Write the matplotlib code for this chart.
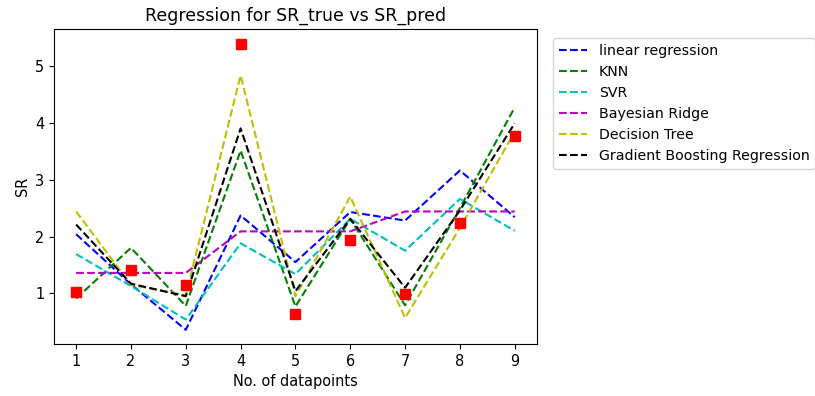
import matplotlib
matplotlib.use("Agg")
import matplotlib.pyplot as plt

# -----------------------------
# data
# -----------------------------
datapoints = [1, 2, 3, 4, 5, 6, 7, 8, 9]
sr_true = [1.03, 1.42, 1.15, 5.39, 0.64, 1.93, 0.99, 2.23, 3.77]

linear_reg = [2.04, 1.16, 0.36, 2.37, 1.55, 2.43, 2.28, 3.16, 2.34]
knn = [0.91, 1.80, 0.78, 3.51, 0.77, 2.31, 0.79, 2.50, 4.27]
svr = [1.69, 1.13, 0.54, 1.88, 1.34, 2.31, 1.75, 2.66, 2.10]
bayes_ridge = [1.36, 1.36, 1.36, 2.09, 2.09, 2.09, 2.44, 2.44, 2.44]
decision_tree = [2.44, 1.15, 0.97, 4.83, 0.95, 2.70, 0.57, 2.15, 3.84]
grad_boost = [2.21, 1.17, 0.95, 3.90, 1.04, 2.31, 1.10, 2.46, 3.99]

series = [
    ("linear regression", linear_reg, "b--"),
    ("KNN", knn, "g--"),
    ("SVR", svr, "c--"),
    ("Bayesian Ridge", bayes_ridge, "m--"),
    ("Decision Tree", decision_tree, "y--"),
    ("Gradient Boosting Regression", grad_boost, "k--"),
]


def plot():
    plt.rcParams["font.size"] = 10.45
    fig = plt.figure(figsize=(8.15, 3.96), dpi=100)
    ax = fig.add_subplot(111)
    # axes box: x 54..537 px, y 29..344 px
    fig.subplots_adjust(left=0.0665, right=0.6585, top=0.926, bottom=0.131)

    for label, values, style in series:
        ax.plot(datapoints, values, style, label=label)
    ax.plot(datapoints, sr_true, "rs", markersize=7)

    ax.set_title("Regression for SR_true vs SR_pred", fontsize=12.5)
    ax.set_xlabel("No. of datapoints")
    ax.set_ylabel("SR")
    ax.set_xticks(datapoints)
    ax.legend(loc="upper left", bbox_to_anchor=(1.02, 0.995), fontsize=10.2)

    fig.savefig("out.png", dpi=100)


if __name__ == "__main__":
    plot()
